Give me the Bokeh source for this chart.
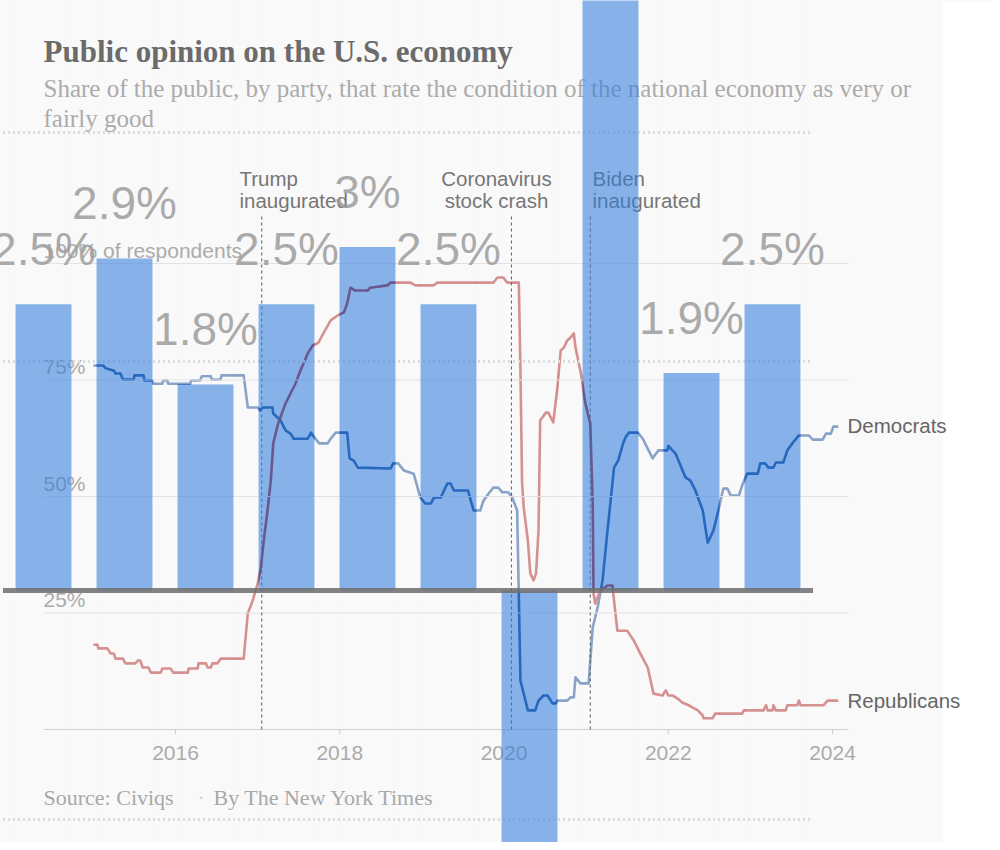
from bokeh.plotting import figure
from bokeh.models import Range1d, Label, BoxAnnotation
from bokeh.core.properties import value
from bokeh.embed import file_html
from bokeh.resources import INLINE

# ---------------- data ----------------
gdp_years = [2014, 2015, 2016, 2017, 2018, 2019, 2020, 2021, 2022, 2023]
gdp_growth = [2.5, 2.9, 1.8, 2.5, 3.0, 2.5, -2.2, 5.8, 1.9, 2.5]
# labels of the 2020 and 2021 bars fall outside the picture in the reference
gdp_labels = ["2.5%", "2.9%", "1.8%", "2.5%", "3%", "2.5%", "", "", "1.9%", "2.5%"]
gdp_grid = [-2, 2, 4]

dem_year = [2015.00, 2015.12, 2015.15, 2015.25, 2015.27, 2015.33, 2015.36, 2015.49, 2015.50, 2015.61,
            2015.62, 2015.72, 2015.73, 2015.84, 2015.85, 2015.90, 2015.91, 2016.18, 2016.19, 2016.30,
            2016.32, 2016.43, 2016.44, 2016.55, 2016.56, 2016.83, 2016.88, 2017.00, 2017.03, 2017.06,
            2017.18, 2017.19, 2017.28, 2017.34, 2017.40, 2017.44, 2017.61, 2017.65, 2017.69, 2017.75,
            2017.85, 2017.89, 2017.95, 2018.09, 2018.12, 2018.17, 2018.22, 2018.62, 2018.65, 2018.71,
            2018.78, 2018.90, 2018.98, 2019.04, 2019.11, 2019.15, 2019.23, 2019.31, 2019.35, 2019.39,
            2019.56, 2019.63, 2019.71, 2019.75, 2019.81, 2019.87, 2019.93, 2019.98, 2020.05, 2020.10,
            2020.16, 2020.20, 2020.24, 2020.29, 2020.38, 2020.42, 2020.48, 2020.53, 2020.59, 2020.63,
            2020.65, 2020.77, 2020.81, 2020.85, 2020.87, 2020.93, 2021.03, 2021.08, 2021.14, 2021.20,
            2021.26, 2021.34, 2021.39, 2021.45, 2021.48, 2021.52, 2021.63, 2021.69, 2021.76, 2021.81,
            2021.88, 2021.99, 2022.00, 2022.05, 2022.09, 2022.21, 2022.27, 2022.33, 2022.42, 2022.48,
            2022.55, 2022.61, 2022.67, 2022.72, 2022.76, 2022.86, 2022.90, 2022.96, 2023.09, 2023.12,
            2023.18, 2023.22, 2023.28, 2023.31, 2023.40, 2023.45, 2023.51, 2023.59, 2023.71, 2023.76,
            2023.88, 2023.92, 2023.98, 2024.01, 2024.07]
dem_pct = [78.1, 78.1, 77.5, 77.0, 76.4, 76.4, 75.1, 75.1, 76.0, 76.0,
           74.9, 74.9, 74.2, 74.2, 74.9, 74.9, 74.2, 74.2, 74.9, 74.9,
           75.8, 75.8, 75.1, 75.1, 76.0, 76.0, 69.1, 69.1, 68.5, 69.1,
           69.1, 67.8, 66.3, 64.2, 63.5, 62.4, 62.4, 63.7, 62.7, 61.4,
           61.4, 62.4, 63.7, 63.7, 58.2, 57.7, 56.2, 56.0, 57.1, 57.1,
           55.6, 54.9, 49.8, 48.5, 48.5, 49.8, 49.8, 52.8, 52.8, 51.3,
           51.3, 47.0, 47.0, 49.1, 50.6, 51.9, 51.9, 50.9, 50.9, 49.8,
           47.0, 10.5, 7.7, 4.1, 4.1, 6.2, 7.3, 7.3, 5.6, 5.6,
           6.2, 6.2, 6.9, 6.9, 11.2, 9.9, 9.9, 21.9, 26.2, 32.0,
           42.7, 56.2, 57.7, 61.4, 62.7, 63.7, 63.7, 62.4, 59.9, 58.2,
           59.9, 59.9, 60.9, 59.9, 59.2, 54.1, 53.4, 51.3, 47.0, 40.1,
           42.7, 47.0, 51.7, 51.7, 50.2, 50.2, 52.4, 54.9, 54.9, 57.1,
           57.1, 56.2, 56.2, 57.3, 57.3, 59.9, 61.4, 63.1, 63.1, 62.2,
           62.2, 63.5, 63.5, 65.0, 65.0]

rep_year = [2015.00, 2015.05, 2015.06, 2015.17, 2015.21, 2015.25, 2015.27, 2015.36, 2015.39, 2015.51,
            2015.54, 2015.57, 2015.60, 2015.67, 2015.70, 2015.82, 2015.84, 2015.94, 2015.97, 2016.15,
            2016.16, 2016.27, 2016.28, 2016.37, 2016.39, 2016.43, 2016.45, 2016.51, 2016.55, 2016.83,
            2016.88, 2016.94, 2017.00, 2017.04, 2017.07, 2017.12, 2017.16, 2017.19, 2017.25, 2017.34,
            2017.40, 2017.46, 2017.52, 2017.61, 2017.67, 2017.74, 2017.80, 2017.89, 2017.97, 2018.05,
            2018.09, 2018.13, 2018.19, 2018.34, 2018.37, 2018.58, 2018.62, 2018.86, 2018.92, 2019.14,
            2019.19, 2019.87, 2019.92, 2019.99, 2020.04, 2020.18, 2020.20, 2020.22, 2020.24, 2020.29,
            2020.32, 2020.36, 2020.39, 2020.42, 2020.44, 2020.51, 2020.54, 2020.60, 2020.65, 2020.69,
            2020.73, 2020.77, 2020.81, 2020.85, 2020.87, 2020.93, 2020.99, 2021.05, 2021.08, 2021.09,
            2021.11, 2021.17, 2021.26, 2021.32, 2021.33, 2021.38, 2021.50, 2021.58, 2021.66, 2021.75,
            2021.82, 2021.93, 2021.97, 2022.00, 2022.05, 2022.11, 2022.17, 2022.25, 2022.36, 2022.42,
            2022.43, 2022.54, 2022.57, 2022.90, 2022.92, 2023.16, 2023.19, 2023.21, 2023.27, 2023.28,
            2023.31, 2023.43, 2023.45, 2023.57, 2023.59, 2023.61, 2023.89, 2023.94, 2024.07]
rep_pct = [18.2, 18.2, 17.4, 17.4, 16.3, 16.3, 15.2, 15.2, 14.2, 14.2,
           14.8, 14.8, 13.3, 13.3, 12.2, 12.2, 13.1, 13.1, 12.2, 12.2,
           13.1, 13.1, 14.2, 14.2, 13.3, 13.3, 14.2, 14.2, 15.2, 15.2,
           24.9, 27.7, 31.3, 34.8, 39.9, 47.0, 53.4, 61.4, 65.7, 70.0,
           72.1, 74.2, 77.0, 80.7, 82.4, 83.0, 85.0, 87.8, 88.8, 89.5,
           91.4, 94.8, 94.2, 94.2, 94.8, 95.3, 95.9, 95.9, 95.3, 95.3,
           95.9, 95.9, 97.0, 97.0, 95.9, 95.9, 77.0, 52.8, 47.6, 40.6,
           33.5, 32.0, 33.5, 42.7, 66.3, 68.0, 68.0, 65.9, 73.4, 81.3,
           82.0, 83.5, 84.1, 85.0, 82.0, 77.0, 70.0, 65.7, 48.5, 29.2,
           27.0, 29.8, 30.9, 30.9, 29.2, 21.2, 21.2, 19.1, 16.3, 13.3,
           7.7, 7.3, 8.4, 7.3, 7.3, 6.7, 5.8, 5.2, 4.1, 3.0,
           2.4, 2.4, 3.4, 3.4, 4.1, 4.1, 5.2, 4.1, 4.1, 5.2,
           4.1, 4.1, 5.2, 5.2, 6.2, 5.2, 5.2, 6.2, 6.2]

year_ticks = [2016, 2018, 2020, 2022, 2024]
pct_ticks = [25, 50, 75, 100]
pct_tick_labels = ["25%", "50%", "75%", "100% of respondents"]
event_years = [2017.05, 2020.09, 2021.05]

# ---------------- layout (page pixels) ----------------
W, H = 992, 842
OX, OY = 0, 0
YEAR0_PX, PX_PER_YEAR = 92.9, 82.125
PCT0_PX, PX_PER_PCT = 729.0, 4.66
BAR0_PX, PX_PER_BAR = 43.0, 81.0
BASE_PX, PX_PER_GDP = 590.0, 114.5
BAR_W = 0.69
FADE = 0.48


def yr(px):
    return 2015 + (px - YEAR0_PX) / PX_PER_YEAR


def pc(py):
    return (PCT0_PX - py) / PX_PER_PCT


def bx(px):
    return 2014 + (px - BAR0_PX) / PX_PER_BAR


def gy(py):
    return (BASE_PX - py) / PX_PER_GDP


def sx(px):
    return px - OX


def sy(py):
    return OY + H - py


SANS = value("Liberation Sans")
SERIF = "Liberation Serif"
BAR = dict(x_range_name="bar", y_range_name="gdp")

p = figure(width=W, height=H, output_backend="svg", toolbar_location=None,
           x_range=Range1d(yr(OX), yr(OX + W)), y_range=Range1d(pc(OY + H), pc(OY)),
           x_axis_location=None, y_axis_location=None, min_border=0)
p.extra_x_ranges = {"bar": Range1d(bx(OX), bx(OX + W))}
p.extra_y_ranges = {"gdp": Range1d(gy(OY + H), gy(OY))}
p.grid.visible = False
p.outline_line_color = None
p.background_fill_color = "#f4f4f4"
p.border_fill_color = "#ffffff"
p.add_layout(BoxAnnotation(left=yr(942), fill_color="#ffffff", fill_alpha=1.0,
                           line_color=None, level="underlay"))

# ---- NYT lines (full strength, faded below by the overlay) ----
p.line(dem_year, dem_pct, line_color="#1e5096", line_width=2.6, line_join="round")
p.line(rep_year, rep_pct, line_color="#af2d2d", line_width=2.6, line_join="round")

# ---- white veil of the overlaid bar picture, everywhere except on the bars ----
XL, XR = bx(OX), bx(OX + W)
YB, YT = gy(OY + H), gy(OY)
edges_l = [x - BAR_W / 2 for x in gdp_years]
edges_r = [x + BAR_W / 2 for x in gdp_years]
p.quad(left=[XL] + edges_r, right=edges_l + [XR], bottom=YB, top=YT,
       fill_color="#ffffff", fill_alpha=FADE, line_color=None, **BAR)
p.quad(left=edges_l, right=edges_r, bottom=[max(v, 0) for v in gdp_growth], top=YT,
       fill_color="#ffffff", fill_alpha=FADE, line_color=None, **BAR)
p.quad(left=edges_l, right=edges_r, bottom=YB, top=[min(v, 0) for v in gdp_growth],
       fill_color="#ffffff", fill_alpha=FADE, line_color=None, **BAR)

# ---- NYT frame: grid, axis, labels ----
GX0, GX1 = yr(43), yr(848)
p.segment(x0=GX0, x1=GX1, y0=pct_ticks, y1=pct_ticks, line_color="#e2e2e2", line_width=1)
p.segment(x0=GX0, x1=GX1, y0=0, y1=0, line_color="#d0d0d0", line_width=1)
p.segment(x0=year_ticks, x1=year_ticks, y0=0, y1=pc(734), line_color="#d0d0d0", line_width=1)
p.text(x=yr(43), y=[t + 2.8 for t in pct_ticks], text=pct_tick_labels, text_font=SANS,
       text_font_size="21px", text_color="#ababab", text_align="left", text_baseline="middle")
p.text(x=year_ticks, y=pc(752), text=[str(t) for t in year_ticks], text_font=SANS,
       text_font_size="21px", text_color="#ababab", text_align="center", text_baseline="middle")

p.segment(x0=event_years, x1=event_years, y0=0, y1=pc(215), line_color="#5a5a5a",
          line_width=1, line_dash="3 3")
ev_font = dict(text_font=SANS, text_font_size="20.5px", text_color="#767676", text_baseline="middle")
p.text(x=yr(239), y=[pc(178), pc(200)], text=["Trump", "inaugurated"], text_align="left", **ev_font)
p.text(x=yr(496), y=[pc(178), pc(200)], text=["Coronavirus", "stock crash"], text_align="center", **ev_font)
p.text(x=yr(592), y=[pc(178), pc(200)], text=["Biden", "inaugurated"], text_align="left", **ev_font)

p.text(x=yr(847), y=[pc(425), pc(700)], text=["Democrats", "Republicans"], text_font=SANS,
       text_font_size="20.5px", text_color="#666666", text_align="left", text_baseline="middle")

# ---- titles ----
def add_label(px, py, txt, size, color, bold=False):
    p.add_layout(Label(x=sx(px), y=sy(py), x_units="screen", y_units="screen", text=txt,
                       text_font=SERIF, text_font_style="bold" if bold else "normal",
                       text_font_size=size, text_color=color, text_baseline="middle",
                       level="glyph"))


add_label(43, 51, "Public opinion on the U.S. economy", "31px", "#6b6b6b", bold=True)
add_label(43, 88, "Share of the public, by party, that rate the condition of the national economy as very or",
          "25px", "#ababab")
add_label(43, 118, "fairly good", "25px", "#ababab")
add_label(43, 797, "Source: Civiqs", "22px", "#a8a8a8")
add_label(197, 797, "·", "22px", "#d0d0d0")
add_label(213, 797, "By The New York Times", "22px", "#a8a8a8")

# ---- overlaid GDP bar chart ----
bx0 = gdp_years[0] - 0.5
bx1 = gdp_years[-1] + 0.5
p.segment(x0=bx0, x1=bx1, y0=gdp_grid, y1=gdp_grid, line_color="#dcdcdc", line_width=3,
          line_dash="2 3", **BAR)
p.vbar(x=gdp_years, top=gdp_growth, bottom=0, width=BAR_W, fill_color="#2e7be0",
       fill_alpha=0.55, line_color=None, level="overlay", **BAR)
p.segment(x0=bx0, x1=bx1, y0=0, y1=0, line_color="#6e6e6e", line_alpha=0.85, line_width=5,
          level="overlay", **BAR)
p.text(x=gdp_years, y=[g + 0.48 if g > 0 else g - 0.48 for g in gdp_growth], text=gdp_labels,
       text_font=SANS, text_font_size="46px", text_color="#9c9c9c", text_alpha=0.85,
       text_align="center", text_baseline="middle", level="overlay", **BAR)

open("out.html", "w").write(file_html(p, INLINE))
